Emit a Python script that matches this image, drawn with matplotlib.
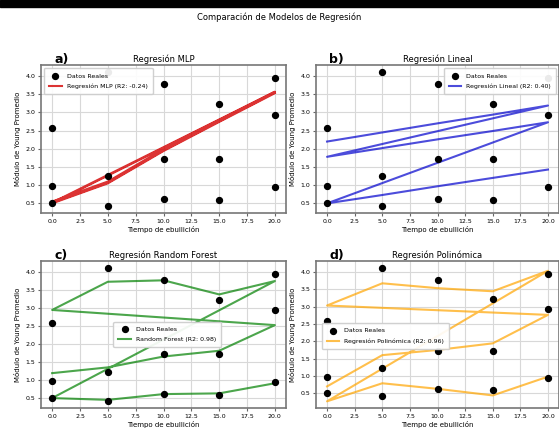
import numpy as np
import matplotlib
matplotlib.use("Agg")
import matplotlib.pyplot as plt
from matplotlib.patches import Rectangle

# tiempos (3 series de 5 puntos, concatenadas)
tiempo = [0, 5, 10, 15, 20, 0, 5, 10, 15, 20, 0, 5, 10, 15, 20]

# datos reales
modulo_real = [0.97, 1.24, 1.73, 1.73, 2.94,
               2.58, 4.12, 3.77, 3.22, 3.94,
               0.50, 0.42, 0.62, 0.60, 0.95]

# predicciones de cada modelo
pred_mlp = [0.55, 1.10, 1.99, 2.79, 3.57,
            0.52, 1.07, 1.96, 2.76, 3.55,
            0.50, 1.05, 1.94, 2.74, 3.53]
pred_lineal = [2.20, 2.45, 2.70, 2.94, 3.19,
               1.78, 2.02, 2.26, 2.49, 2.73,
               0.50, 0.73, 0.97, 1.20, 1.43]
pred_rf = [1.20, 1.36, 1.66, 1.82, 2.53,
           2.95, 3.73, 3.77, 3.38, 3.75,
           0.51, 0.46, 0.62, 0.64, 0.92]
pred_poli = [0.70, 1.60, 1.75, 1.94, 2.76,
             3.03, 3.67, 3.53, 3.44, 4.03,
             0.27, 0.79, 0.63, 0.44, 0.98]

letras = ["a)", "b)", "c)", "d)"]
titulos = ["Regresión MLP", "Regresión Lineal", "Regresión Random Forest", "Regresión Polinómica"]
etiquetas = ["Regresión MLP (R2: -0.24)", "Regresión Lineal (R2: 0.40)",
             "Random Forest (R2: 0.98)", "Regresión Polinómica (R2: 0.96)"]
predicciones = [pred_mlp, pred_lineal, pred_rf, pred_poli]
colores = ["#d40000", "mediumblue", "green", "orange"]
alfas = [0.8, 0.7, 0.7, 0.7]

W, H = 559, 433
fig = plt.figure(figsize=(W / 100, H / 100), dpi=100)

# franja negra superior del recorte
fig.patches.append(Rectangle((0, 1 - 7 / H), 1, 7 / H, transform=fig.transFigure,
                             color="black", zorder=10))

fig.text(0.5, 1 - 17 / H, "Comparación de Modelos de Regresión", ha="center", va="center", fontsize=6)

# posiciones en pixeles: (izq, arriba, ancho, alto)
cajas = [(41, 65, 245, 148), (316, 65, 243, 148), (41, 261, 245, 147), (316, 261, 243, 147)]
leyendas = [dict(loc="upper left"),
            dict(loc="upper right"),
            dict(loc="center", bbox_to_anchor=(0.515, 0.50)),
            dict(loc="center", bbox_to_anchor=(0.285, 0.49))]

for i in range(4):
    x0, top, w, h = cajas[i]
    ax = fig.add_axes([x0 / W, 1 - (top + h) / H, w / W, h / H])
    ax.scatter(tiempo, modulo_real, color="black", s=18, label="Datos Reales", zorder=3)
    ax.plot(tiempo, predicciones[i], color=colores[i], alpha=alfas[i], lw=1.5, label=etiquetas[i])
    ax.set_title(titulos[i], fontsize=6, pad=2)
    ax.text(0.055, 0.99, letras[i], transform=ax.transAxes, fontsize=9, fontweight="bold", va="bottom")
    ax.set_xlabel("Tiempo de ebullición", fontsize=5, labelpad=2)
    ax.set_ylabel("Módulo de Young Promedio", fontsize=5, labelpad=3)
    ax.set_xticks([0, 2.5, 5, 7.5, 10, 12.5, 15, 17.5, 20])
    ax.set_yticks([0.5, 1.0, 1.5, 2.0, 2.5, 3.0, 3.5, 4.0])
    ax.tick_params(labelsize=4.5, length=2, pad=2, color="#666666")
    ax.grid(True, color="#d8d8d8", lw=0.8)
    ax.set_axisbelow(True)
    for sp in ax.spines.values():
        sp.set_color("#777777")
        sp.set_linewidth(1.2)
    leg = ax.legend(fontsize=4.5, framealpha=0.92, borderpad=0.8, labelspacing=0.8, **leyendas[i])
    leg.get_frame().set_edgecolor("#cccccc")

fig.savefig("out.png", dpi=100)
